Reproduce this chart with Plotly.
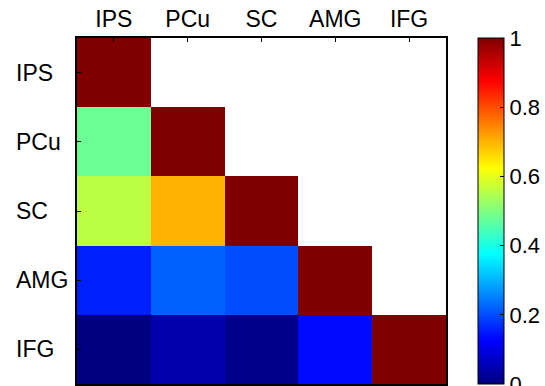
import plotly.graph_objects as go

regions = ["IPS", "PCu", "SC", "AMG", "IFG"]
# lower-triangular correlation matrix (rows = y, cols = x); None = blank
row_IPS = [1.00, None, None, None, None]
row_PCu = [0.48, 1.00, None, None, None]
row_SC = [0.56, 0.70, 1.00, None, None]
row_AMG = [0.155, 0.22, 0.20, 1.00, None]
row_IFG = [0.00, 0.045, 0.01, 0.135, 1.00]
z = [row_IPS, row_PCu, row_SC, row_AMG, row_IFG]

cbar_ticks = [0, 0.2, 0.4, 0.6, 0.8, 1]
cbar_labels = ["0", "0.2", "0.4", "0.6", "0.8", "1"]

jet = [
    [0.0, "rgb(0,0,128)"],
    [0.125, "rgb(0,0,255)"],
    [0.375, "rgb(0,255,255)"],
    [0.625, "rgb(255,255,0)"],
    [0.875, "rgb(255,0,0)"],
    [1.0, "rgb(128,0,0)"],
]

FAM = "Liberation Sans, Arial, sans-serif"
font = dict(family=FAM, size=23, color="black")

fig = go.Figure(
    go.Heatmap(
        z=z,
        x=regions,
        y=regions,
        zmin=0,
        zmax=1,
        colorscale=jet,
        hoverongaps=False,
        colorbar=dict(
            x=1.0865,
            xanchor="left",
            y=0.5,
            yanchor="middle",
            len=1.0,
            lenmode="fraction",
            thickness=26,
            thicknessmode="pixels",
            outlinecolor="black",
            outlinewidth=1,
            tickvals=cbar_ticks,
            ticktext=cbar_labels,
            ticks="inside",
            ticklen=4,
            tickcolor="black",
            ticklabeloverflow="allow",
            tickfont=dict(family=FAM, size=22, color="black"),
            xpad=0,
            ypad=0,
        ),
    )
)

# left-aligned row labels (as in the reference)
for r in regions:
    fig.add_annotation(
        x=-0.1703, xref="paper", xanchor="left",
        y=r, yref="y", yanchor="middle",
        text=r, showarrow=False, font=font,
    )

fig.update_layout(
    width=545,
    height=386,
    margin=dict(l=77, r=98, t=38, b=0),
    paper_bgcolor="white",
    plot_bgcolor="white",
    font=font,
    xaxis=dict(
        side="top",
        showline=True,
        linecolor="black",
        linewidth=1.5,
        mirror=True,
        ticks="inside",
        ticklen=4,
        tickcolor="black",
        tickfont=font,
        showgrid=False,
        zeroline=False,
        fixedrange=True,
    ),
    yaxis=dict(
        autorange="reversed",
        showline=True,
        linecolor="black",
        linewidth=1.5,
        mirror=True,
        ticks="inside",
        ticklen=4,
        tickcolor="black",
        showticklabels=False,
        showgrid=False,
        zeroline=False,
        fixedrange=True,
    ),
)

fig.write_html("out.html")
